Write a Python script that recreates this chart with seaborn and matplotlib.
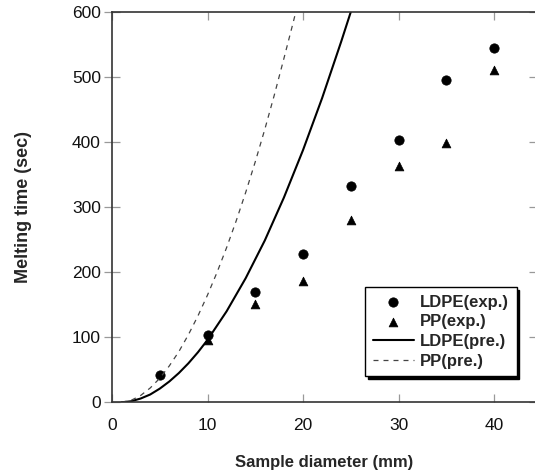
import pandas as pd
import seaborn as sns
import matplotlib.pyplot as plt

# experimental points
diam_exp = [5, 10, 15, 20, 25, 30, 35, 40]
ldpe_exp = [42, 103, 170, 228, 333, 403, 496, 545]
diam_pp = [10, 15, 20, 25, 30, 35, 40]
pp_exp = [96, 152, 186, 281, 364, 399, 511]

# predicted curves
diam_ldpe_pre = [1, 2, 3, 4, 5, 6, 7, 8, 9, 10, 12, 14, 16, 18, 20, 22, 24, 25.1]
ldpe_pre = [0, 1.6, 5.8, 12, 21, 32, 45, 60, 77, 96, 140, 191, 249, 315, 388, 468, 555, 605]
diam_pp_pre = [1, 2, 3, 4, 5, 6, 7, 8, 9, 10, 11, 12, 13, 14, 15, 16, 17, 18, 19, 19.3]
pp_pre = [0, 3, 10.5, 22, 37, 56, 78, 104, 133, 165, 200, 238, 279, 323, 370, 420, 473, 529, 586, 604]

sns.set_style('ticks')
plt.rcParams['font.family'] = ['Liberation Sans', 'DejaVu Sans']

fig = plt.figure(figsize=(5.35, 4.72), dpi=100)
ax = fig.add_axes([112 / 535, (472 - 402.3) / 472, 425 / 535, 390 / 472])

sns.scatterplot(x=diam_exp, y=ldpe_exp, marker='o', s=45, color='black',
                edgecolor='black', label='LDPE(exp.)', ax=ax)
sns.scatterplot(x=diam_pp, y=pp_exp, marker='^', s=40, color='black',
                edgecolor='black', label='PP(exp.)', ax=ax)
sns.lineplot(x=diam_ldpe_pre, y=ldpe_pre, color='black', linewidth=1.5,
             label='LDPE(pre.)', ax=ax)
sns.lineplot(x=diam_pp_pre, y=pp_pre, color='#444444', linewidth=0.9,
             label='PP(pre.)', ax=ax)
ax.lines[-1].set_dashes((4, 4))

ax.set_xlim(0, 44.5)
ax.set_ylim(0, 600)
ax.set_xticks([0, 10, 20, 30, 40])
ax.set_yticks([0, 100, 200, 300, 400, 500, 600])
ax.tick_params(width=0.9, color='#999999', top=True, right=True,
               labelsize=12.5, labelcolor='#111111')
ax.tick_params(axis='x', direction='in', length=6, pad=11)
ax.tick_params(axis='y', direction='inout', length=12, pad=2)
for sp in ax.spines.values():
    sp.set_color('#333333')
    sp.set_linewidth(1.2)

ax.set_xlabel('Sample diameter (mm)', fontsize=12, fontweight='bold', labelpad=16)
ax.set_ylabel('Melting time (sec)', fontsize=13, fontweight='bold', labelpad=29)

leg = ax.legend(loc='lower right', bbox_to_anchor=(0.952, 0.067),
                frameon=True, fancybox=False, shadow={'color': 'black', 'alpha': 1},
                prop={'weight': 'bold', 'size': 12}, handlelength=2.5,
                handletextpad=0.35, labelspacing=0.28, borderpad=0.45,
                borderaxespad=0)
leg.get_frame().set_edgecolor('black')
leg.get_frame().set_linewidth(1.0)
leg.get_frame().set_alpha(1)

fig.savefig('out.png', dpi=100)
